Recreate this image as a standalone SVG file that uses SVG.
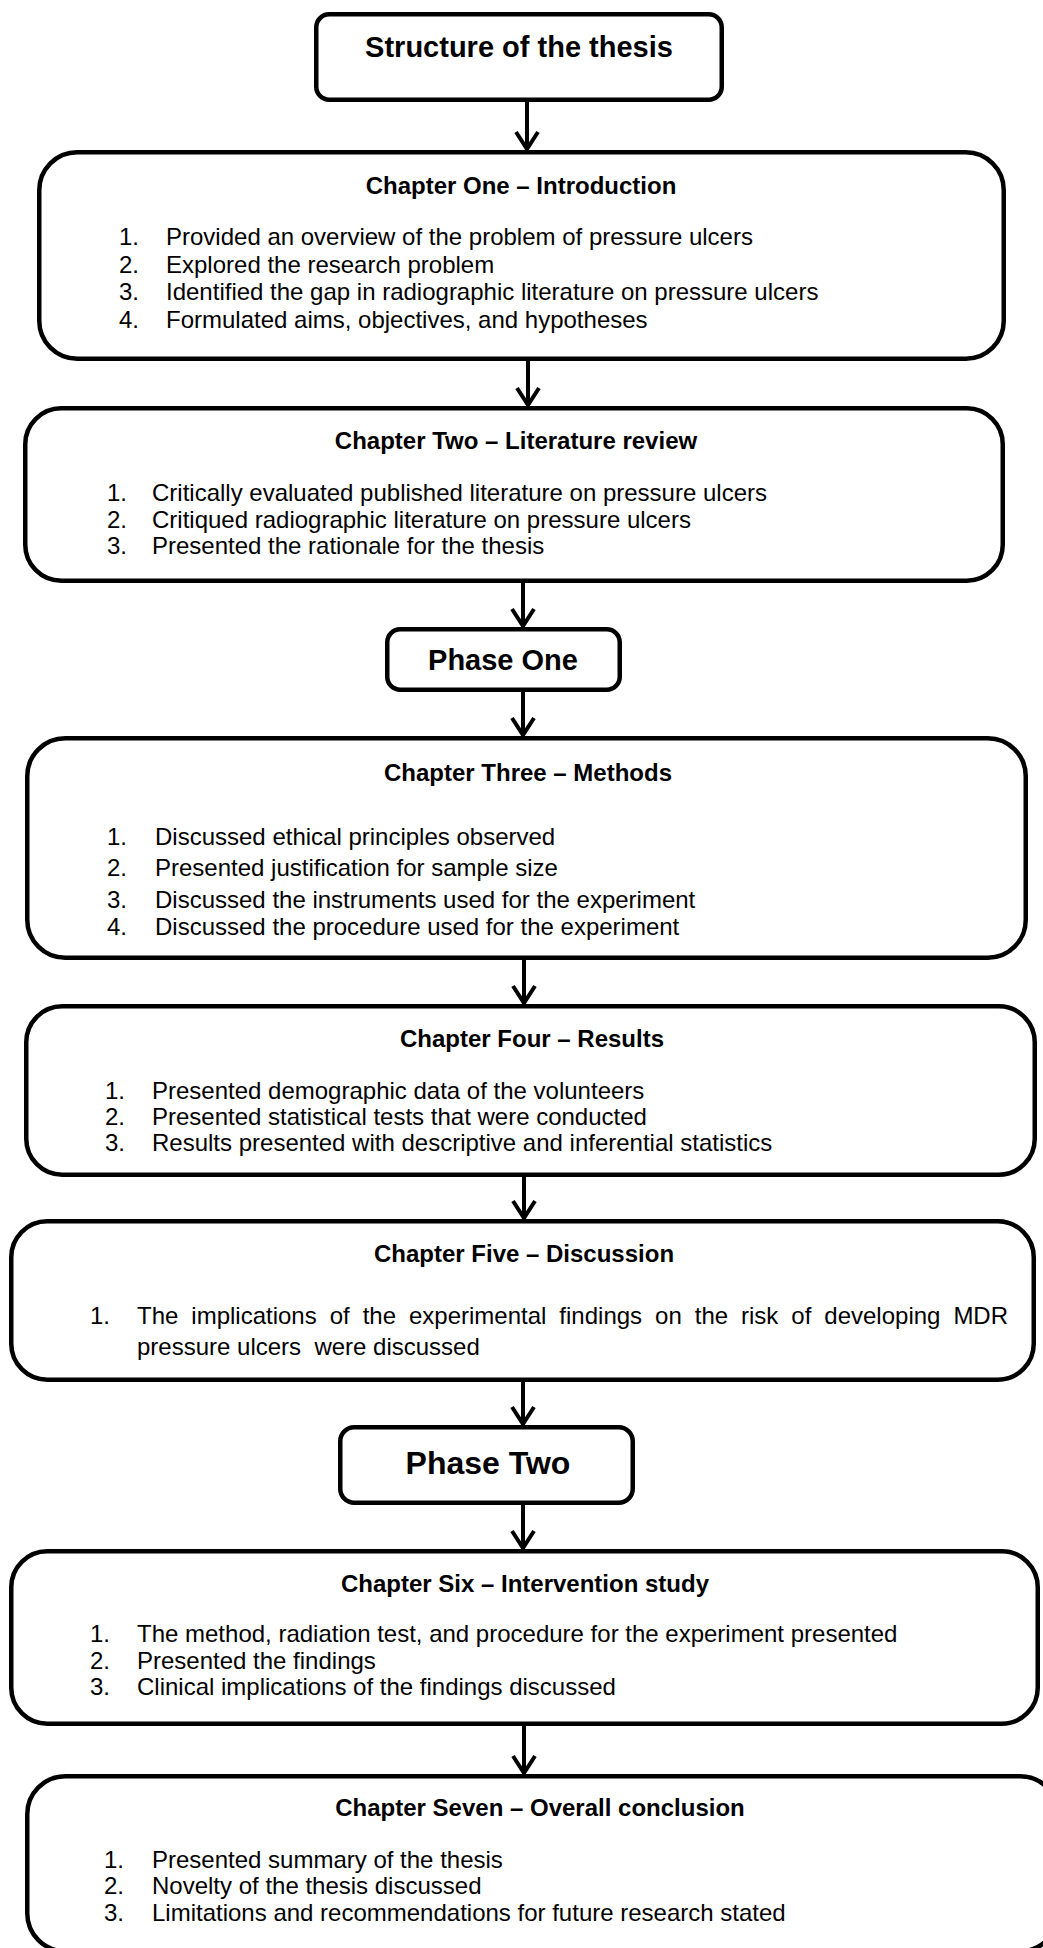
<svg xmlns="http://www.w3.org/2000/svg" width="1043" height="1948" viewBox="0 0 1043 1948">
  <style>
    .box { fill: #fff; stroke: #000; stroke-width: 4.5; }
    .link { fill: none; stroke: #000; stroke-width: 4; }
    text { font-family: "Liberation Sans", Arial, sans-serif; fill: #000; }
    .head { font-size: 24px; font-weight: bold; text-anchor: middle; }
    .big { font-weight: bold; text-anchor: middle; }
    .item { font-size: 24px; }
  </style>
  <defs>
    <marker id="chev" markerUnits="userSpaceOnUse" markerWidth="40" markerHeight="40" refX="0" refY="0" orient="auto" overflow="visible">
      <path d="M-18,-11 L-1,0 L-18,11" fill="none" stroke="#000" stroke-width="4" stroke-linejoin="miter"/>
    </marker>
  </defs>

  <rect width="1043" height="1948" fill="#fff"/>

  <!-- connectors -->
  <g id="connectors">
    <line class="link" x1="527" y1="102" x2="527" y2="150" marker-end="url(#chev)"/>
    <line class="link" x1="528" y1="361" x2="528" y2="406" marker-end="url(#chev)"/>
    <line class="link" x1="523" y1="583" x2="523" y2="627" marker-end="url(#chev)"/>
    <line class="link" x1="523" y1="692" x2="523" y2="736" marker-end="url(#chev)"/>
    <line class="link" x1="524" y1="960" x2="524" y2="1004" marker-end="url(#chev)"/>
    <line class="link" x1="524" y1="1177" x2="524" y2="1219" marker-end="url(#chev)"/>
    <line class="link" x1="523" y1="1382" x2="523" y2="1425" marker-end="url(#chev)"/>
    <line class="link" x1="523" y1="1505" x2="523" y2="1549" marker-end="url(#chev)"/>
    <line class="link" x1="524" y1="1726" x2="524" y2="1774" marker-end="url(#chev)"/>
  </g>

  <!-- title -->
  <g id="structure">
    <rect class="box" x="316.25" y="14.25" width="405.5" height="85.5" rx="13"/>
    <text class="big" x="519" y="57" font-size="29">Structure of the thesis</text>
  </g>

  <g id="chapter-one">
    <rect class="box" x="39.25" y="152.25" width="964.5" height="206.5" rx="38"/>
    <text class="head" x="521" y="194">Chapter One – Introduction</text>
    <text class="item" x="119" y="245">1.</text><text class="item" x="166" y="245">Provided an overview of the problem of pressure ulcers</text>
    <text class="item" x="119" y="272.5">2.</text><text class="item" x="166" y="272.5">Explored the research problem</text>
    <text class="item" x="119" y="300">3.</text><text class="item" x="166" y="300">Identified the gap in radiographic literature on pressure ulcers</text>
    <text class="item" x="119" y="327.5">4.</text><text class="item" x="166" y="327.5">Formulated aims, objectives, and hypotheses</text>
  </g>

  <g id="chapter-two">
    <rect class="box" x="25.25" y="408.25" width="977.5" height="172.5" rx="36"/>
    <text class="head" x="516" y="449">Chapter Two – Literature review</text>
    <text class="item" x="107" y="501">1.</text><text class="item" x="152" y="501">Critically evaluated published literature on pressure ulcers</text>
    <text class="item" x="107" y="528">2.</text><text class="item" x="152" y="528">Critiqued radiographic literature on pressure ulcers</text>
    <text class="item" x="107" y="554">3.</text><text class="item" x="152" y="554">Presented the rationale for the thesis</text>
  </g>

  <g id="phase-one">
    <rect class="box" x="387.25" y="629.25" width="232.5" height="60.5" rx="13"/>
    <text class="big" x="503" y="670" font-size="29">Phase One</text>
  </g>

  <g id="chapter-three">
    <rect class="box" x="27.25" y="738.25" width="998.5" height="219.5" rx="38"/>
    <text class="head" x="528" y="781">Chapter Three – Methods</text>
    <text class="item" x="107" y="844.5">1.</text><text class="item" x="155" y="844.5">Discussed ethical principles observed</text>
    <text class="item" x="107" y="876">2.</text><text class="item" x="155" y="876">Presented justification for sample size</text>
    <text class="item" x="107" y="907.5">3.</text><text class="item" x="155" y="907.5">Discussed the instruments used for the experiment</text>
    <text class="item" x="107" y="935">4.</text><text class="item" x="155" y="935">Discussed the procedure used for the experiment</text>
  </g>

  <g id="chapter-four">
    <rect class="box" x="26.25" y="1006.25" width="1008.5" height="168.5" rx="36"/>
    <text class="head" x="532" y="1047">Chapter Four – Results</text>
    <text class="item" x="105" y="1099">1.</text><text class="item" x="152" y="1099">Presented demographic data of the volunteers</text>
    <text class="item" x="105" y="1125">2.</text><text class="item" x="152" y="1125">Presented statistical tests that were conducted</text>
    <text class="item" x="105" y="1151">3.</text><text class="item" x="152" y="1151">Results presented with descriptive and inferential statistics</text>
  </g>

  <g id="chapter-five">
    <rect class="box" x="11.25" y="1221.25" width="1022.5" height="158.5" rx="36"/>
    <text class="head" x="524" y="1262">Chapter Five – Discussion</text>
    <text class="item" x="90" y="1324">1.</text><text class="item" x="137" y="1324" word-spacing="6.3">The implications of the experimental findings on the risk of developing MDR</text>
    <text class="item" x="137" y="1355" xml:space="preserve">pressure ulcers  were discussed</text>
  </g>

  <g id="phase-two">
    <rect class="box" x="340.25" y="1427.25" width="292.5" height="75.5" rx="14"/>
    <text class="big" x="488" y="1474" font-size="32">Phase Two</text>
  </g>

  <g id="chapter-six">
    <rect class="box" x="11.25" y="1551.25" width="1026.5" height="172.5" rx="36"/>
    <text class="head" x="525" y="1592">Chapter Six – Intervention study</text>
    <text class="item" x="90" y="1642">1.</text><text class="item" x="137" y="1642">The method, radiation test, and procedure for the experiment presented</text>
    <text class="item" x="90" y="1669">2.</text><text class="item" x="137" y="1669">Presented the findings</text>
    <text class="item" x="90" y="1695">3.</text><text class="item" x="137" y="1695">Clinical implications of the findings discussed</text>
  </g>

  <!-- last box runs past the right and bottom edges of the page -->
  <g id="chapter-seven">
    <rect class="box" x="27.25" y="1776.25" width="1031" height="175" rx="38"/>
    <text class="head" x="540" y="1816">Chapter Seven – Overall conclusion</text>
    <text class="item" x="104" y="1867.5">1.</text><text class="item" x="152" y="1867.5">Presented summary of the thesis</text>
    <text class="item" x="104" y="1894">2.</text><text class="item" x="152" y="1894">Novelty of the thesis discussed</text>
    <text class="item" x="104" y="1921">3.</text><text class="item" x="152" y="1921">Limitations and recommendations for future research stated</text>
  </g>
</svg>
